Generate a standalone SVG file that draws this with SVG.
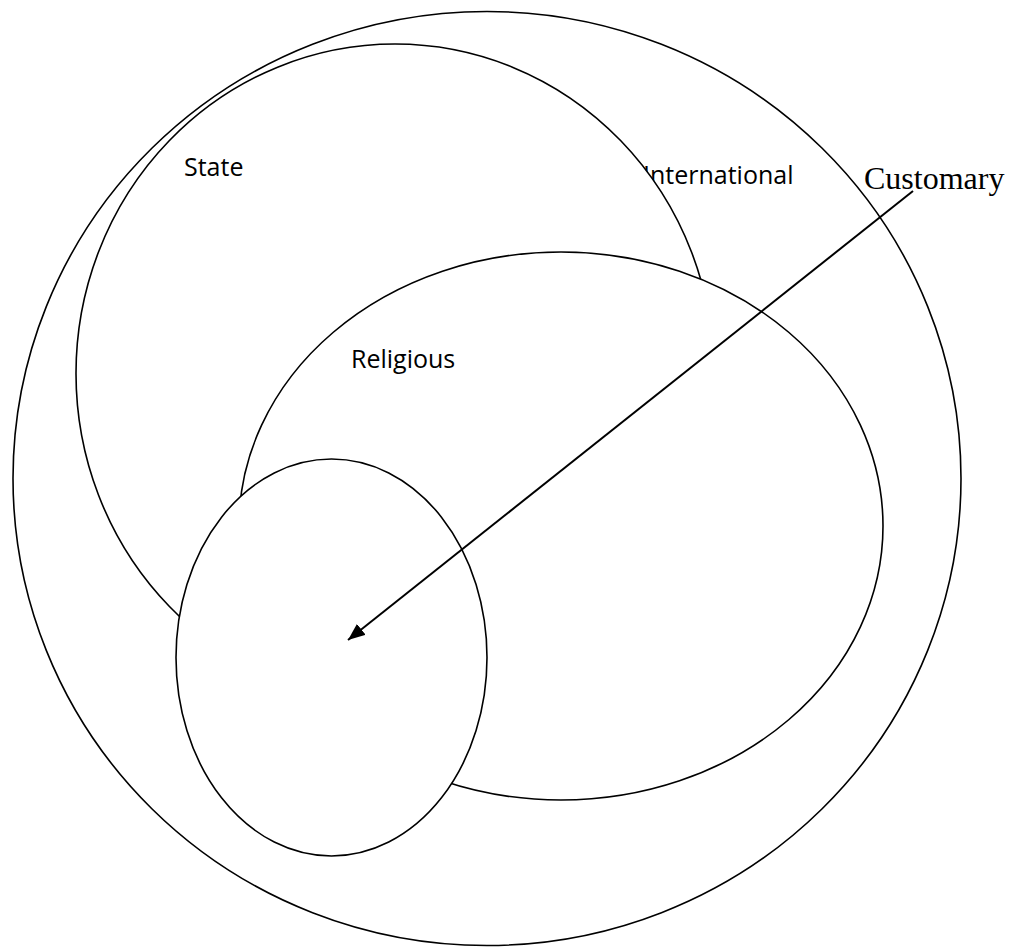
<svg xmlns="http://www.w3.org/2000/svg" width="1013" height="947" viewBox="0 0 1013 947">
  <style>
    .shape { fill: #ffffff; stroke: #000000; stroke-width: 1.6; }
    .lbl { font-family: "Open Sans", "Liberation Sans", sans-serif; font-size: 25px; fill: #000000; }
    .serif { font-family: "Liberation Serif", "Times New Roman", serif; font-size: 32px; fill: #000000; }
    .conn { stroke: #000000; stroke-width: 2; fill: none; }
  </style>
  <defs>
    <marker id="arrow" markerUnits="userSpaceOnUse" markerWidth="18" markerHeight="14" refX="17" refY="7" orient="auto">
      <path d="M0,0 L17,7 L0,14 z" fill="#000000"/>
    </marker>
  </defs>
  <rect x="0" y="0" width="1013" height="947" fill="#ffffff"/>
  <g id="international">
    <ellipse class="shape" cx="487" cy="478.5" rx="474" ry="467"/>
    <text class="lbl" x="643" y="184">International</text>
  </g>
  <g id="state">
    <ellipse class="shape" cx="395" cy="373.5" rx="319" ry="329.5"/>
    <text class="lbl" x="184" y="176">State</text>
  </g>
  <g id="religious">
    <ellipse class="shape" cx="561" cy="526" rx="322" ry="274"/>
    <text class="lbl" x="351" y="368">Religious</text>
  </g>
  <g id="customary-core">
    <ellipse class="shape" cx="331.5" cy="657.5" rx="155.5" ry="198.5"/>
  </g>
  <g id="connectors">
    <line class="conn" x1="913" y1="191" x2="348" y2="640" marker-end="url(#arrow)"/>
  </g>
  <g id="customary">
    <text class="serif" x="864" y="189">Customary</text>
  </g>
</svg>
